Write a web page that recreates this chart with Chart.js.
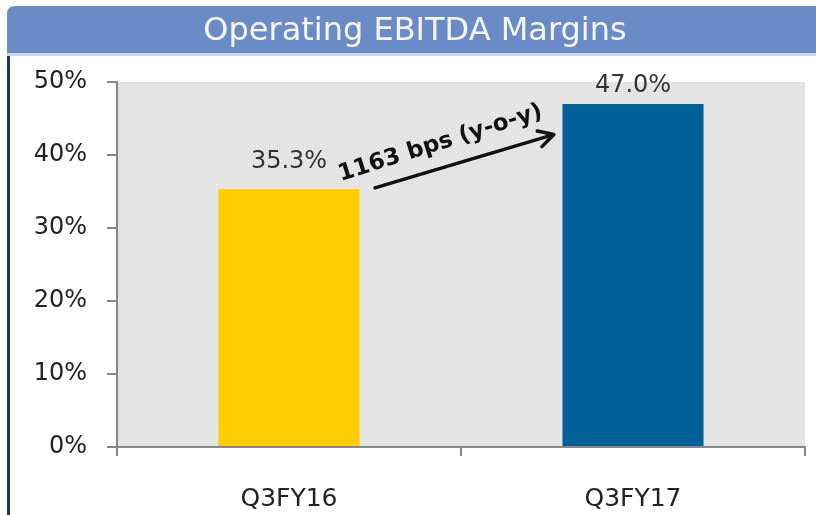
<!DOCTYPE html>
<html><head><meta charset="utf-8">
<script src="https://cdn.jsdelivr.net/npm/chart.js@4"></script>
<style>html,body{margin:0;padding:0;background:#fff;}#wrap{width:816px;height:515px;position:relative;}</style>
</head><body><div id="wrap"><canvas id="c" width="816" height="515"></canvas></div>
<script>
const categories = ['Q3FY16', 'Q3FY17'];
const margins = [35.3, 47.0];
const barColors = ['#FFCC00', '#006198'];
const yTicks = [0, 10, 20, 30, 40, 50];
const titleText = 'Operating EBITDA Margins';
const noteText = '1163 bps (y-o-y)';
const arrowFrom = [0.25, 35.5];
const arrowTo = [0.77, 42.8];
const notePos = [0.44, 41.6];

const FONT = '"DejaVu Sans", Verdana, sans-serif';

function makePattern(ctx) {
  const p = document.createElement('canvas');
  p.width = 4; p.height = 4;
  const g = p.getContext('2d');
  g.fillStyle = '#e2e2e2'; g.fillRect(0, 0, 4, 4);
  g.fillStyle = '#f6f6f6'; g.fillRect(0, 0, 1, 1); g.fillRect(2, 2, 1, 1);
  return ctx.createPattern(p, 'repeat');
}

const framePlugin = {
  id: 'frame',
  beforeDraw(chart) {
    const ctx = chart.ctx, a = chart.chartArea;
    ctx.save();
    ctx.fillStyle = '#fff';
    ctx.fillRect(0, 0, chart.width, chart.height);
    // title bar
    ctx.fillStyle = '#6a8bc6';
    ctx.beginPath();
    const x0 = 7, y0 = 6, x1 = 816, y1 = 53, r = 8;
    ctx.moveTo(x0 + r, y0); ctx.lineTo(x1, y0); ctx.lineTo(x1, y1); ctx.lineTo(x0, y1);
    ctx.lineTo(x0, y0 + r); ctx.quadraticCurveTo(x0, y0, x0 + r, y0); ctx.closePath();
    ctx.fill();
    ctx.fillStyle = '#c9d6ee';
    ctx.fillRect(x0, y1, x1 - x0, 3);
    ctx.fillStyle = '#f4f7fc';
    ctx.font = '32px ' + FONT;
    ctx.textAlign = 'center'; ctx.textBaseline = 'alphabetic';
    ctx.fillText(titleText, 415, 40);
    // left border
    ctx.fillStyle = '#1c3560';
    ctx.fillRect(7, 56, 3, 459);
    // plot background
    ctx.fillStyle = makePattern(ctx);
    ctx.fillRect(a.left, a.top, a.right - a.left, a.bottom - a.top);
    ctx.restore();
  },
  afterDatasetsDraw(chart) {
    const ctx = chart.ctx, xs = chart.scales.x, ys = chart.scales.y, a = chart.chartArea;
    ctx.save();
    // value labels
    ctx.fillStyle = '#333';
    ctx.font = '24px ' + FONT;
    ctx.textAlign = 'center'; ctx.textBaseline = 'alphabetic';
    chart.getDatasetMeta(0).data.forEach((bar, i) => {
      ctx.fillText(margins[i].toFixed(1) + '%', bar.x, Math.max(bar.y - 21, a.top + 10));
    });
    // arrow
    const ax0 = xs.getPixelForValue(arrowFrom[0]), ay0 = ys.getPixelForValue(arrowFrom[1]);
    const ax1 = xs.getPixelForValue(arrowTo[0]), ay1 = ys.getPixelForValue(arrowTo[1]);
    const ang = Math.atan2(ay1 - ay0, ax1 - ax0);
    ctx.strokeStyle = '#111'; ctx.fillStyle = '#111';
    ctx.lineWidth = 3.5; ctx.lineCap = 'round'; ctx.lineJoin = 'round';
    ctx.beginPath(); ctx.moveTo(ax0, ay0); ctx.lineTo(ax1 - 3 * Math.cos(ang), ay1 - 3 * Math.sin(ang)); ctx.stroke();
    ctx.beginPath();
    ctx.moveTo(ax1 - 17 * Math.cos(ang - 0.5), ay1 - 17 * Math.sin(ang - 0.5));
    ctx.lineTo(ax1, ay1);
    ctx.lineTo(ax1 - 17 * Math.cos(ang + 0.5), ay1 - 17 * Math.sin(ang + 0.5));
    ctx.stroke();
    // note text
    const tx = xs.getPixelForValue(notePos[0]), ty = ys.getPixelForValue(notePos[1]);
    ctx.translate(tx, ty);
    ctx.rotate(-17.5 * Math.PI / 180);
    ctx.font = 'bold 23px ' + FONT;
    ctx.textAlign = 'center'; ctx.textBaseline = 'middle';
    ctx.fillStyle = '#111';
    ctx.fillText(noteText, 0, 0);
    ctx.restore();
  }
};

new Chart(document.getElementById('c'), {
  type: 'bar',
  data: {
    labels: categories,
    datasets: [{ data: margins, backgroundColor: barColors, borderWidth: 0, barPercentage: 0.82, categoryPercentage: 0.5 }]
  },
  options: {
    responsive: false,
    animation: false,
    devicePixelRatio: 1,
    layout: { padding: { top: 82, right: 11, left: 0, bottom: 0 } },
    plugins: { legend: { display: false }, tooltip: { enabled: false }, title: { display: false } },
    scales: {
      x: {
        grid: { display: true, offset: true, drawOnChartArea: false, drawTicks: true, tickLength: 9, color: '#888', lineWidth: 2 },
        border: { display: true, color: '#888', width: 2 },
        ticks: { color: '#222', font: { size: 25, family: FONT }, padding: 28 },
        afterFit(s) { s.height = 68; }
      },
      y: {
        min: 0, max: 50,
        afterBuildTicks(s) { s.ticks = yTicks.map(v => ({ value: v })); },
        grid: { display: true, drawOnChartArea: false, drawTicks: true, tickLength: 10, color: '#888', lineWidth: 2 },
        border: { display: true, color: '#888', width: 2 },
        ticks: { color: '#222', font: { size: 24, family: FONT }, padding: 20, callback: v => v + '%' },
        afterFit(s) { s.width = 117; }
      }
    }
  },
  plugins: [framePlugin]
});
</script></body></html>
